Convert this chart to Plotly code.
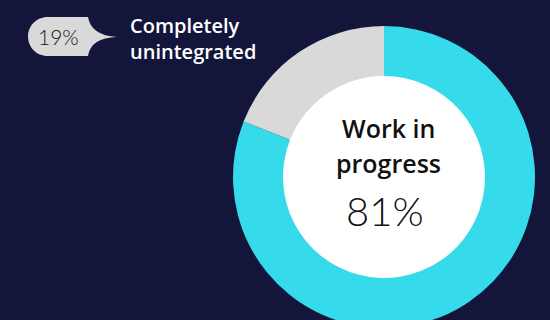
import plotly.graph_objects as go

# Share of work, in percent
labels = ["Work in progress", "Completely unintegrated"]
values = [81, 19]
colors = ["#35dbea", "#d9d9d9"]

W, H = 550, 330
BG = "#13163a"
CX, CY, R_OUT, R_IN = 384, 177, 151, 101
BOLD = "Open Sans"
LIGHT = "Lato"


def px(x):
    return x / W


def py(y):
    return 1 - y / H


fig = go.Figure(
    go.Pie(
        labels=labels,
        values=values,
        marker=dict(colors=colors, line=dict(width=0)),
        hole=R_IN / R_OUT,
        sort=False,
        direction="clockwise",
        rotation=0,
        textinfo="none",
        hoverinfo="label+percent",
        showlegend=False,
        domain=dict(x=[px(CX - R_OUT), px(CX + R_OUT)],
                    y=[py(CY + R_OUT), py(CY - R_OUT)]),
    )
)

# White disc inside the ring
shapes = [
    dict(type="circle", xref="paper", yref="paper", layer="below",
         x0=px(CX - R_IN - 1), x1=px(CX + R_IN + 1),
         y0=py(CY + R_IN + 1), y1=py(CY - R_IN - 1),
         fillcolor="white", line=dict(width=0)),
]


# Speech-bubble callout for the grey slice
def pt(x, y):
    return f"{px(x):.5f},{py(y):.5f}"


top, bot, left, right, tip = 17, 56, 28, 88, (117, 37)
r = (bot - top) / 2
mid = (top + bot) / 2
k = 0.552 * r
path = (
    f"M {pt(left + r, top)} L {pt(right, top)} "
    f"Q {pt(right + 3, mid - 1)} {pt(*tip)} "
    f"Q {pt(right + 3, mid + 1)} {pt(right, bot)} "
    f"L {pt(left + r, bot)} "
    f"C {pt(left + r - k, bot)} {pt(left, mid + k)} {pt(left, mid)} "
    f"C {pt(left, mid - k)} {pt(left + r - k, top)} {pt(left + r, top)} Z"
)
shapes.append(dict(type="path", xref="paper", yref="paper", path=path,
                   fillcolor="#d9d9d9", line=dict(width=0), layer="above"))


def note(x, y, text, family, size, color, weight, xanchor="center"):
    return dict(x=px(x), y=py(y), xref="paper", yref="paper",
                xanchor=xanchor, yanchor="middle", text=text,
                showarrow=False,
                font=dict(family=family, size=size, color=color,
                          weight=weight))


annotations = [
    note(left + r + 11, 36, f"{values[1]}%", LIGHT, 21, "#151515", 300),
    note(128, 26, "Completely", BOLD, 20, "white", 600, "left"),
    note(128, 51, "unintegrated", BOLD, 20, "white", 600, "left"),
    note(CX + 4, 128, "Work in", BOLD, 25, "#111111", 600),
    note(CX + 4, 163, "progress", BOLD, 25, "#111111", 600),
    note(CX + 1, 211, f"{values[0]}%", LIGHT, 40, "#111111", 300),
]

fig.update_layout(
    width=W, height=H,
    margin=dict(l=0, r=0, t=0, b=0),
    paper_bgcolor=BG, plot_bgcolor=BG,
    shapes=shapes, annotations=annotations,
)

fig.write_html("out.html",
               post_script="document.body.style.overflow='hidden';")
